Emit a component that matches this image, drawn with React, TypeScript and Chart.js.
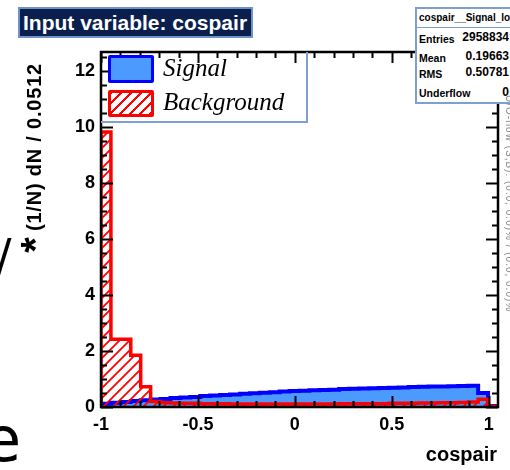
import React, { useEffect, useRef } from "react";
import { Chart, registerables } from "chart.js";

Chart.register(...registerables);

// ---- data ----
const xStart = -1;
const binWidth = 0.0512;
const xEnd = 1.048;
const signalValues = [
  0.12, 0.15, 0.18, 0.21, 0.24, 0.27, 0.29, 0.32, 0.34, 0.36,
  0.39, 0.41, 0.43, 0.45, 0.47, 0.49, 0.51, 0.53, 0.55, 0.57,
  0.58, 0.6, 0.61, 0.62, 0.64, 0.65, 0.66, 0.67, 0.68, 0.69,
  0.7, 0.71, 0.72, 0.73, 0.73, 0.74, 0.75, 0.76, 0.5, 0.04,
];
const backgroundValues = [
  9.82, 2.42, 2.42, 1.85, 0.72, 0.2, 0.15, 0.14, 0.13, 0.13,
  0.12, 0.12, 0.12, 0.11, 0.11, 0.11, 0.11, 0.11, 0.11, 0.11,
  0.11, 0.11, 0.11, 0.11, 0.12, 0.12, 0.12, 0.12, 0.12, 0.13,
  0.13, 0.13, 0.14, 0.14, 0.15, 0.15, 0.16, 0.18, 0.28, 0.03,
];
const xTickValues = [-1, -0.5, 0, 0.5, 1];
const xTickLabels = ["-1", "-0.5", "0", "0.5", "1"];
const yTickValues = [0, 2, 4, 6, 8, 10, 12];
const yMax = 12.68;
const statNames = ["Entries", "Mean", "RMS", "Underflow"];
const statValues = ["2958834", "0.19663", "0.50781", "0"];

const SIGNAL_FILL = "rgb(77,154,255)";
const SIGNAL_LINE = "#0000ff";
const BG_LINE = "#ff0000";

function histPoints(values: number[]) {
  const pts: { x: number; y: number }[] = [{ x: xStart, y: 0 }];
  values.forEach((v, i) => pts.push({ x: xStart + i * binWidth, y: v }));
  pts.push({ x: xEnd, y: 0 });
  return pts;
}

function makeHatch(): CanvasPattern | string {
  const c = document.createElement("canvas");
  c.width = 10;
  c.height = 10;
  const g = c.getContext("2d");
  if (!g) return "rgba(255,0,0,0.3)";
  g.strokeStyle = BG_LINE;
  g.lineWidth = 1.8;
  g.beginPath();
  g.moveTo(-1, 11);
  g.lineTo(11, -1);
  g.moveTo(-6, 6);
  g.lineTo(6, -6);
  g.moveTo(4, 16);
  g.lineTo(16, 4);
  g.stroke();
  return g.createPattern(c, "repeat") as CanvasPattern;
}

const frameTicks = {
  id: "frameTicks",
  afterDatasetsDraw(chart: any) {
    const { ctx, chartArea } = chart;
    const { left, right, top, bottom } = chartArea;
    const xs = chart.scales.x;
    const ys = chart.scales.y;
    ctx.save();
    ctx.strokeStyle = "#000";
    ctx.lineWidth = 2;
    ctx.beginPath();
    for (let i = 0; i <= 20; i++) {
      const v = -1 + i * 0.1;
      const px = Math.round(xs.getPixelForValue(v)) + 0.5;
      const major = i % 5 === 0;
      const len = major ? 11 : 6;
      ctx.moveTo(px, bottom);
      ctx.lineTo(px, bottom - len);
      ctx.moveTo(px, top);
      ctx.lineTo(px, top + len);
    }
    for (let i = 0; i <= 25; i++) {
      const v = i * 0.5;
      if (v > yMax) break;
      const py = Math.round(ys.getPixelForValue(v)) + 0.5;
      const major = i % 4 === 0;
      const len = major ? 12 : 6;
      ctx.moveTo(left, py);
      ctx.lineTo(left + len, py);
      ctx.moveTo(right, py);
      ctx.lineTo(right - len, py);
    }
    ctx.stroke();
    ctx.lineWidth = 2.5;
    ctx.strokeRect(left, top, right - left, bottom - top);
    ctx.restore();
  },
};

export default function App() {
  const ref = useRef<HTMLCanvasElement | null>(null);
  useEffect(() => {
    if (!ref.current) return;
    const hatch = makeHatch();
    const tickFont = { family: "'Liberation Sans', Arial, sans-serif", size: 18, weight: "bold" as const };
    const chart = new Chart(ref.current, {
      type: "line",
      data: {
        datasets: [
          {
            label: "Background",
            data: histPoints(backgroundValues),
            stepped: true,
            borderColor: BG_LINE,
            borderWidth: 3.5,
            backgroundColor: hatch as any,
            fill: "origin",
            pointRadius: 0,
            order: 0,
          },
          {
            label: "Signal",
            data: histPoints(signalValues),
            stepped: true,
            borderColor: SIGNAL_LINE,
            borderWidth: 4,
            backgroundColor: SIGNAL_FILL,
            fill: "origin",
            pointRadius: 0,
            order: 1,
          },
        ],
      },
      options: {
        responsive: false,
        animation: false,
        devicePixelRatio: 1,
        layout: { padding: { left: 0, top: 52, right: 12, bottom: 0 } },
        plugins: { legend: { display: false }, tooltip: { enabled: false } },
        scales: {
          x: {
            type: "linear",
            min: xStart,
            max: xEnd,
            grid: { display: false, drawTicks: false },
            border: { display: false },
            afterBuildTicks: (s: any) => {
              s.ticks = xTickValues.map((v) => ({ value: v }));
            },
            afterFit: (s: any) => {
              s.height = 63;
            },
            ticks: {
              autoSkip: false,
              maxRotation: 0,
              padding: 7,
              color: "#000",
              font: tickFont,
              callback: (v: any) => {
                const i = xTickValues.indexOf(Number(v));
                return i >= 0 ? xTickLabels[i] : "";
              },
            },
          },
          y: {
            type: "linear",
            min: 0,
            max: yMax,
            grid: { display: false, drawTicks: false },
            border: { display: false },
            afterBuildTicks: (s: any) => {
              s.ticks = yTickValues.map((v) => ({ value: v }));
            },
            afterFit: (s: any) => {
              s.width = 101;
            },
            ticks: {
              autoSkip: false,
              padding: 6,
              color: "#000",
              font: tickFont,
              callback: (v: any) => String(v),
            },
          },
        },
      },
      plugins: [frameTicks],
    });
    return () => chart.destroy();
  }, []);

  const sans = "'Liberation Sans', Arial, Helvetica, sans-serif";
  const serif = "'Liberation Serif', 'Times New Roman', serif";
  const labelTops = [24, 43, 59, 78];
  const valueShift = [-3, -3, -3, -2];

  return (
    <div
      style={{
        position: "absolute",
        left: 0,
        top: 0,
        width: 510,
        height: 470,
        overflow: "hidden",
        background: "#fff",
        fontFamily: sans,
      }}
    >
      <canvas ref={ref} width={510} height={470} style={{ position: "absolute", left: 0, top: 0, width: 510, height: 470 }} />

      {/* title box */}
      <div
        style={{
          position: "absolute",
          left: 18,
          top: 7,
          width: 228,
          height: 27,
          background: "#0b1f4f",
          border: "2px solid #6f93c9",
          color: "#fff",
          fontWeight: "bold",
          fontSize: 21,
          lineHeight: "27px",
          paddingLeft: 3,
          whiteSpace: "nowrap",
        }}
      >
        Input variable: cospair
      </div>

      {/* stats box */}
      <div
        style={{
          position: "absolute",
          left: 415,
          top: 7,
          width: 120,
          height: 93,
          background: "#fff",
          border: "2px solid #7f9fcf",
          fontWeight: "bold",
          color: "#000",
        }}
      >
        <div style={{ position: "absolute", left: 2, top: 3, fontSize: 10, whiteSpace: "nowrap" }}>
          cospair__Signal_lowest
        </div>
        <div style={{ position: "absolute", left: 0, top: 18, width: 120, borderTop: "1.5px solid #7f9fcf" }} />
        {statNames.map((n, i) => (
          <div
            key={n}
            style={{
              position: "absolute",
              left: 2,
              top: labelTops[i],
              width: 90,
              fontSize: 10.5,
              whiteSpace: "nowrap",
            }}
          >
            <span>{n}</span>
            <span style={{ position: "absolute", right: 0, top: valueShift[i], fontSize: 12 }}>{statValues[i]}</span>
          </div>
        ))}
      </div>

      {/* legend */}
      <div
        style={{
          position: "absolute",
          left: 101,
          top: 52,
          width: 205,
          height: 69,
          borderRight: "2px solid #7f9fcf",
          borderBottom: "2px solid #7f9fcf",
        }}
      >
        <div
          style={{
            position: "absolute",
            left: 7,
            top: 3,
            width: 40,
            height: 22,
            background: SIGNAL_FILL,
            border: "3px solid " + SIGNAL_LINE,
            borderRadius: 2,
          }}
        />
        <div
          style={{
            position: "absolute",
            left: 7,
            top: 38,
            width: 40,
            height: 21,
            border: "3px solid " + BG_LINE,
            borderRadius: 2,
            background:
              "repeating-linear-gradient(-45deg, #ff0000 0px, #ff0000 2px, #fff 2px, #fff 7px)",
          }}
        />
        <div
          style={{
            position: "absolute",
            left: 62,
            top: 0,
            fontFamily: serif,
            fontStyle: "italic",
            fontSize: 25,
            lineHeight: "32px",
            whiteSpace: "nowrap",
          }}
        >
          Signal
        </div>
        <div
          style={{
            position: "absolute",
            left: 62,
            top: 34,
            fontFamily: serif,
            fontStyle: "italic",
            fontSize: 25,
            lineHeight: "32px",
            whiteSpace: "nowrap",
          }}
        >
          Background
        </div>
      </div>

      {/* y axis title */}
      <div
        style={{
          position: "absolute",
          left: 34,
          top: 147,
          transform: "translate(-50%, -50%) rotate(-90deg)",
          fontWeight: "bold",
          fontSize: 20,
          letterSpacing: 0.8,
          whiteSpace: "nowrap",
          lineHeight: "22px",
        }}
      >
        (1/N) dN / 0.0512
      </div>
      <div
        style={{
          position: "absolute",
          left: 28,
          top: 245,
          transform: "translate(-50%, -50%) rotate(-90deg)",
          fontWeight: "bold",
          fontSize: 40,
          lineHeight: "40px",
          height: 26,
          overflow: "visible",
        }}
      >
        *
      </div>

      {/* x axis title */}
      <div
        style={{
          position: "absolute",
          right: 13,
          top: 443,
          fontWeight: "bold",
          fontSize: 20,
          lineHeight: "22px",
          whiteSpace: "nowrap",
        }}
      >
        cospair
      </div>

      {/* clipped large glyphs on the left edge */}
      <div style={{ position: "absolute", left: -4, top: 228, fontSize: 46, lineHeight: "56px", fontFamily: "'DejaVu Sans', sans-serif" }}>
        /
      </div>
      <div style={{ position: "absolute", left: -17, top: 405, fontSize: 62, lineHeight: "70px", fontFamily: "'DejaVu Sans', sans-serif" }}>
        e
      </div>

      {/* clipped overflow text on the right edge */}
      <div
        style={{
          position: "absolute",
          left: 505,
          top: 95,
          transformOrigin: "0 0",
          transform: "rotate(90deg) translate(0, -10px)",
          fontSize: 10,
          color: "#888",
          whiteSpace: "nowrap",
          letterSpacing: 1,
        }}
      >
        U/O-flow (S,B): (0.0, 0.0)% / (0.0, 0.0)%
      </div>
    </div>
  );
}
